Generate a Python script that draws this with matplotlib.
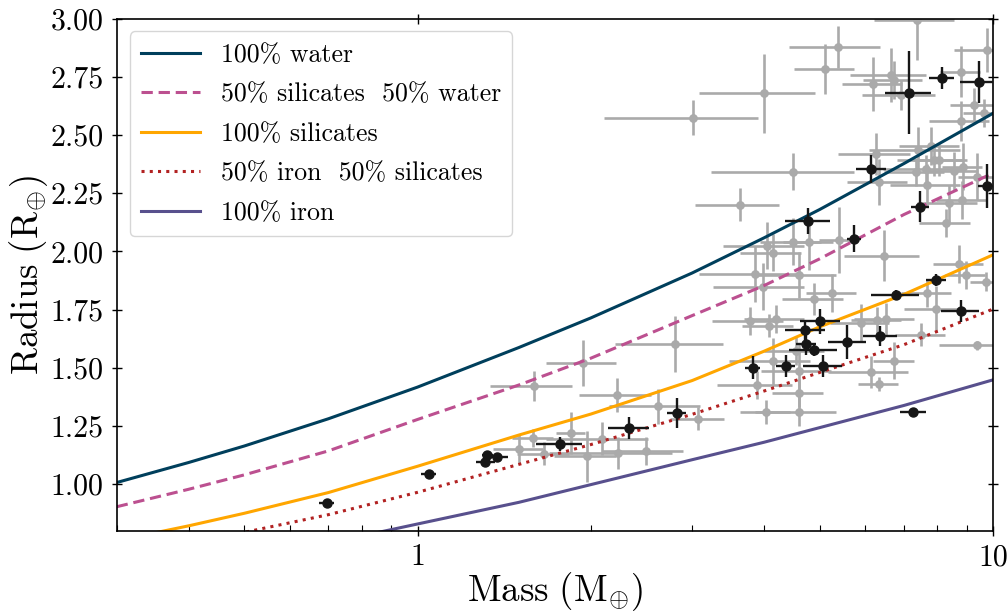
import matplotlib
matplotlib.use("Agg")
import matplotlib.pyplot as plt
import numpy as np

plt.rcParams["font.family"] = "serif"
plt.rcParams["font.serif"] = ["cmr10"]
plt.rcParams["mathtext.fontset"] = "cm"
plt.rcParams["axes.formatter.use_mathtext"] = True

# composition curves
model_mass = [0.3, 0.4, 0.5, 0.7, 1.0, 1.5, 2.0, 3.0, 4.0, 5.0, 7.0, 10.0]
r_water = [1.007, 1.093, 1.164, 1.281, 1.417, 1.587, 1.714, 1.907, 2.058, 2.180, 2.377, 2.593]
r_sil_water = [0.903, 0.978, 1.040, 1.143, 1.278, 1.426, 1.541, 1.724, 1.853, 1.968, 2.158, 2.336]
r_silicates = [0.757, 0.821, 0.875, 0.964, 1.077, 1.211, 1.301, 1.445, 1.571, 1.676, 1.815, 1.985]
r_iron_sil = [0.684, 0.743, 0.793, 0.869, 0.965, 1.085, 1.170, 1.300, 1.400, 1.480, 1.599, 1.752]
r_iron = [0.585, 0.635, 0.678, 0.747, 0.829, 0.922, 0.998, 1.105, 1.180, 1.243, 1.338, 1.448]

# well-characterised planets (black)
black_mass = [0.695, 1.045, 1.312, 1.322, 1.376, 1.769, 2.330, 2.822, 3.823, 4.360,
              5.074, 4.741, 4.895, 4.722, 5.585, 6.370, 7.267, 5.013, 6.790, 7.963,
              8.800, 4.779, 6.146, 7.464, 9.763, 7.151, 8.150, 9.457, 5.743]
black_mass_err = [0.02, 0.03, 0.05, 0.03, 0.06, 0.16, 0.19, 0.11, 0.11, 0.16,
                  0.39, 0.19, 0.47, 0.38, 0.42, 0.43, 0.38, 0.40, 0.65, 0.32,
                  0.67, 0.42, 0.37, 0.27, 0.35, 0.66, 0.42, 0.68, 0.16]
black_radius = [0.921, 1.045, 1.097, 1.127, 1.118, 1.174, 1.242, 1.307, 1.500, 1.509,
                1.509, 1.603, 1.577, 1.663, 1.612, 1.637, 1.311, 1.699, 1.813, 1.878,
                1.745, 2.131, 2.354, 2.192, 2.281, 2.682, 2.746, 2.727, 2.054]
black_radius_err = [0.005, 0.005, 0.005, 0.005, 0.005, 0.03, 0.047, 0.064, 0.05, 0.047,
                    0.047, 0.047, 0.026, 0.043, 0.073, 0.043, 0.005, 0.052, 0.02, 0.026,
                    0.047, 0.056, 0.06, 0.067, 0.094, 0.18, 0.047, 0.09, 0.058]

# other planets (grey)
grey_mass = [3.994, 3.012, 4.484, 3.639, 5.387, 5.114, 7.384, 9.763, 6.194, 6.647,
             6.736, 6.918, 8.790, 9.271, 9.647, 8.790, 6.269, 7.421, 7.798, 7.899,
             8.058, 7.641, 8.559, 8.872, 7.345, 7.690, 8.389, 8.836, 9.383, 8.279,
             4.484, 4.798, 5.408, 6.472, 4.598, 4.895, 5.260, 5.899, 6.290, 6.516,
             7.690, 7.954, 8.732, 8.968, 9.712, 4.042, 4.140, 3.853, 3.978, 3.777,
             4.074, 4.190, 1.942, 2.800, 2.224, 2.620, 1.847, 2.090, 1.969, 2.233,
             2.494, 3.073, 3.895, 4.037, 4.140, 4.538, 4.598, 4.598, 4.598, 6.138,
             6.326, 6.736, 7.493, 9.372, 1.595, 1.502, 1.587, 1.660, 6.326]
grey_mass_err = [0.91, 0.90, 1.25, 0.61, 0.97, 0.61, 1.18, 1.20, 0.74, 1.00,
                 0.80, 1.00, 0.70, 0.85, 0.77, 1.05, 0.90, 1.34, 0.94, 1.10,
                 0.80, 1.20, 0.86, 0.71, 0.88, 1.07, 1.00, 0.88, 0.68, 0.83,
                 0.54, 0.48, 0.43, 0.96, 0.74, 0.59, 0.53, 0.70, 0.63, 0.78,
                 0.77, 0.95, 0.87, 0.72, 0.58, 0.65, 0.50, 0.77, 0.72, 0.53,
                 0.41, 0.50, 0.27, 0.60, 0.32, 0.47, 0.11, 0.42, 0.24, 0.54,
                 0.40, 0.33, 0.58, 0.40, 0.66, 0.54, 0.64, 0.46, 0.74, 0.98,
                 0.50, 0.54, 0.75, 1.30, 0.26, 0.15, 0.13, 0.17, 0.75]
grey_radius = [2.679, 2.573, 2.342, 2.201, 2.878, 2.782, 2.994, 2.865, 2.719, 2.758,
               2.736, 2.672, 2.772, 2.629, 2.593, 2.560, 2.418, 2.436, 2.453, 2.393,
               2.393, 2.354, 2.345, 2.364, 2.341, 2.285, 2.207, 2.221, 2.321, 2.121,
               2.042, 2.042, 2.049, 1.981, 1.899, 1.795, 1.821, 1.694, 1.703, 1.710,
               1.823, 1.752, 1.946, 1.899, 1.870, 2.024, 1.994, 1.903, 1.849, 1.699,
               1.680, 1.710, 1.520, 1.602, 1.384, 1.334, 1.220, 1.195, 1.119, 1.134,
               1.141, 1.281, 1.427, 1.310, 1.527, 1.570, 1.484, 1.391, 1.310, 1.482,
               1.430, 1.531, 1.642, 1.596, 1.423, 1.152, 1.198, 1.131, 2.298]
grey_radius_err = [0.17, 0.075, 0.08, 0.07, 0.09, 0.107, 0.17, 0.094, 0.116, 0.116,
                   0.08, 0.064, 0.11, 0.073, 0.06, 0.086, 0.09, 0.10, 0.08, 0.07,
                   0.07, 0.06, 0.08, 0.10, 0.06, 0.09, 0.08, 0.08, 0.10, 0.06,
                   0.10, 0.12, 0.14, 0.11, 0.10, 0.07, 0.08, 0.08, 0.06, 0.07,
                   0.06, 0.10, 0.08, 0.06, 0.04, 0.10, 0.08, 0.12, 0.10, 0.06,
                   0.05, 0.06, 0.10, 0.12, 0.073, 0.075, 0.09, 0.07, 0.11, 0.07,
                   0.06, 0.05, 0.06, 0.05, 0.10, 0.06, 0.12, 0.06, 0.06, 0.07,
                   0.03, 0.08, 0.05, 0.02, 0.065, 0.065, 0.04, 0.05, 0.10]

fig = plt.figure(figsize=(10.07, 6.12), dpi=100)
ax = fig.add_axes([0.1159, 0.1328, 0.8702, 0.8369])

ax.errorbar(grey_mass, grey_radius, xerr=grey_mass_err, yerr=grey_radius_err,
            fmt="o", color="#aaaaaa", ecolor="#aaaaaa", ms=5.3, elinewidth=1.9,
            capsize=0, zorder=1)

lw = 2.2
ax.plot(model_mass, r_water, color="#003f5c", lw=lw, label="100% water", zorder=2)
ax.plot(model_mass, r_sil_water, color="#bc5090", lw=lw, ls=(0, (3.7, 1.9)),
        label="50% silicates  50% water", zorder=2)
ax.plot(model_mass, r_silicates, color="#ffa600", lw=lw, label="100% silicates", zorder=2)
ax.plot(model_mass, r_iron_sil, color="#b22222", lw=lw, ls=(0, (1, 1.7)),
        label="50% iron  50% silicates", zorder=2)
ax.plot(model_mass, r_iron, color="#58508d", lw=lw, label="100% iron", zorder=2)

ax.errorbar(black_mass, black_radius, xerr=black_mass_err, yerr=black_radius_err,
            fmt="o", color="#161616", ecolor="#161616", ms=6.5, elinewidth=1.7,
            capsize=0, zorder=3)

ax.set_xscale("log")
ax.set_xlim(0.3, 10)
ax.set_ylim(0.8, 3.0)
ax.set_xticks([1, 10], labels=["1", "10"])
ax.set_yticks([1.0, 1.25, 1.5, 1.75, 2.0, 2.25, 2.5, 2.75, 3.0])
ax.yaxis.set_major_formatter(matplotlib.ticker.FormatStrFormatter("%.2f"))
ax.xaxis.set_minor_formatter(matplotlib.ticker.NullFormatter())

ax.tick_params(which="major", direction="inout", length=7, width=1.0,
               labelsize=21.5, top=True, right=True, pad=6)
ax.tick_params(which="minor", axis="x", direction="in", length=4, width=0.8,
               top=False)
for s in ax.spines.values():
    s.set_linewidth(1.2)

ax.set_xlabel(r"$\mathrm{Mass\ (M_{\oplus})}$", fontsize=26.5, labelpad=-1)
ax.set_ylabel(r"$\mathrm{Radius\ (R_{\oplus})}$", fontsize=26.5, labelpad=0)

ax.legend(loc="upper left", fontsize=18.6, handlelength=2.29, handletextpad=0.78,
          labelspacing=0.61, borderpad=0.45, framealpha=0.8)

fig.savefig("out.png", dpi=100)
